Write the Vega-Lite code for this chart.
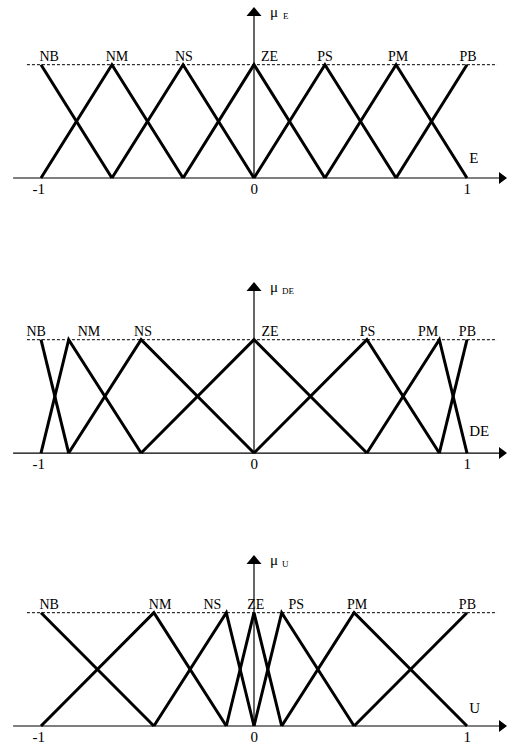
{
  "$schema": "https://vega.github.io/schema/vega-lite/v6.json",
  "padding": 0,
  "spacing": 0,
  "background": "white",
  "config": {"view": {"stroke": null}, "text": {"font": "Liberation Serif", "color": "black"}},
  "datasets": {
    "mf": [
      {"panel": "E", "set": "NB", "x": -1, "mu": 1}, {"panel": "E", "set": "NB", "x": -0.667, "mu": 0},
      {"panel": "E", "set": "NM", "x": -1, "mu": 0}, {"panel": "E", "set": "NM", "x": -0.667, "mu": 1}, {"panel": "E", "set": "NM", "x": -0.333, "mu": 0},
      {"panel": "E", "set": "NS", "x": -0.667, "mu": 0}, {"panel": "E", "set": "NS", "x": -0.333, "mu": 1}, {"panel": "E", "set": "NS", "x": 0, "mu": 0},
      {"panel": "E", "set": "ZE", "x": -0.333, "mu": 0}, {"panel": "E", "set": "ZE", "x": 0, "mu": 1}, {"panel": "E", "set": "ZE", "x": 0.333, "mu": 0},
      {"panel": "E", "set": "PS", "x": 0, "mu": 0}, {"panel": "E", "set": "PS", "x": 0.333, "mu": 1}, {"panel": "E", "set": "PS", "x": 0.667, "mu": 0},
      {"panel": "E", "set": "PM", "x": 0.333, "mu": 0}, {"panel": "E", "set": "PM", "x": 0.667, "mu": 1}, {"panel": "E", "set": "PM", "x": 1, "mu": 0},
      {"panel": "E", "set": "PB", "x": 0.667, "mu": 0}, {"panel": "E", "set": "PB", "x": 1, "mu": 1},

      {"panel": "DE", "set": "NB", "x": -1, "mu": 1}, {"panel": "DE", "set": "NB", "x": -0.87, "mu": 0},
      {"panel": "DE", "set": "NM", "x": -1, "mu": 0}, {"panel": "DE", "set": "NM", "x": -0.87, "mu": 1}, {"panel": "DE", "set": "NM", "x": -0.53, "mu": 0},
      {"panel": "DE", "set": "NS", "x": -0.87, "mu": 0}, {"panel": "DE", "set": "NS", "x": -0.53, "mu": 1}, {"panel": "DE", "set": "NS", "x": 0, "mu": 0},
      {"panel": "DE", "set": "ZE", "x": -0.53, "mu": 0}, {"panel": "DE", "set": "ZE", "x": 0, "mu": 1}, {"panel": "DE", "set": "ZE", "x": 0.53, "mu": 0},
      {"panel": "DE", "set": "PS", "x": 0, "mu": 0}, {"panel": "DE", "set": "PS", "x": 0.53, "mu": 1}, {"panel": "DE", "set": "PS", "x": 0.87, "mu": 0},
      {"panel": "DE", "set": "PM", "x": 0.53, "mu": 0}, {"panel": "DE", "set": "PM", "x": 0.87, "mu": 1}, {"panel": "DE", "set": "PM", "x": 1, "mu": 0},
      {"panel": "DE", "set": "PB", "x": 0.87, "mu": 0}, {"panel": "DE", "set": "PB", "x": 1, "mu": 1},

      {"panel": "U", "set": "NB", "x": -1, "mu": 1}, {"panel": "U", "set": "NB", "x": -0.47, "mu": 0},
      {"panel": "U", "set": "NM", "x": -1, "mu": 0}, {"panel": "U", "set": "NM", "x": -0.47, "mu": 1}, {"panel": "U", "set": "NM", "x": -0.13, "mu": 0},
      {"panel": "U", "set": "NS", "x": -0.47, "mu": 0}, {"panel": "U", "set": "NS", "x": -0.13, "mu": 1}, {"panel": "U", "set": "NS", "x": 0, "mu": 0},
      {"panel": "U", "set": "ZE", "x": -0.13, "mu": 0}, {"panel": "U", "set": "ZE", "x": 0, "mu": 1}, {"panel": "U", "set": "ZE", "x": 0.13, "mu": 0},
      {"panel": "U", "set": "PS", "x": 0, "mu": 0}, {"panel": "U", "set": "PS", "x": 0.13, "mu": 1}, {"panel": "U", "set": "PS", "x": 0.47, "mu": 0},
      {"panel": "U", "set": "PM", "x": 0.13, "mu": 0}, {"panel": "U", "set": "PM", "x": 0.47, "mu": 1}, {"panel": "U", "set": "PM", "x": 1, "mu": 0},
      {"panel": "U", "set": "PB", "x": 0.47, "mu": 0}, {"panel": "U", "set": "PB", "x": 1, "mu": 1}
    ],
    "lab": [
      {"panel": "E", "set": "NB", "lx": -0.962}, {"panel": "E", "set": "NM", "lx": -0.643}, {"panel": "E", "set": "NS", "lx": -0.329},
      {"panel": "E", "set": "ZE", "lx": 0.073}, {"panel": "E", "set": "PS", "lx": 0.333}, {"panel": "E", "set": "PM", "lx": 0.676}, {"panel": "E", "set": "PB", "lx": 1.005},
      {"panel": "DE", "set": "NB", "lx": -1.023}, {"panel": "DE", "set": "NM", "lx": -0.775}, {"panel": "DE", "set": "NS", "lx": -0.521},
      {"panel": "DE", "set": "ZE", "lx": 0.075}, {"panel": "DE", "set": "PS", "lx": 0.533}, {"panel": "DE", "set": "PM", "lx": 0.817}, {"panel": "DE", "set": "PB", "lx": 1.002},
      {"panel": "U", "set": "NB", "lx": -0.962}, {"panel": "U", "set": "NM", "lx": -0.441}, {"panel": "U", "set": "NS", "lx": -0.195},
      {"panel": "U", "set": "ZE", "lx": 0.008}, {"panel": "U", "set": "PS", "lx": 0.198}, {"panel": "U", "set": "PM", "lx": 0.484}, {"panel": "U", "set": "PB", "lx": 1.002}
    ],
    "ticks": [{"v": -1, "t": "-1"}, {"v": 0, "t": "0"}, {"v": 1, "t": "1"}],
    "one": [{}]
  },
  "vconcat": [
    {
      "width": 508, "height": 275,
      "layer": [
        {"data": {"name": "one"}, "mark": {"type": "rule", "color": "black", "strokeWidth": 1, "strokeDash": [3, 2]},
         "encoding": {"x": {"datum": -1.066, "type": "quantitative", "scale": {"domain": [-1.1925, 1.1925], "nice": false, "zero": false}, "axis": null}, "x2": {"datum": 1.141},
                      "y": {"datum": 1, "type": "quantitative", "scale": {"domain": [-0.856, 1.571], "nice": false, "zero": false}, "axis": null}}},
        {"data": {"name": "one"}, "mark": {"type": "rule", "color": "black", "strokeWidth": 1.2},
         "encoding": {"x": {"datum": -1.131, "type": "quantitative", "scale": {"domain": [-1.1925, 1.1925], "nice": false, "zero": false}, "axis": null}, "x2": {"datum": 1.15},
                      "y": {"datum": 0, "type": "quantitative", "scale": {"domain": [-0.856, 1.571], "nice": false, "zero": false}, "axis": null}}},
        {"data": {"name": "one"}, "mark": {"type": "rule", "color": "black", "strokeWidth": 1.2},
         "encoding": {"x": {"datum": 0, "type": "quantitative", "scale": {"domain": [-1.1925, 1.1925], "nice": false, "zero": false}, "axis": null},
                      "y": {"datum": 0, "type": "quantitative", "scale": {"domain": [-0.856, 1.571], "nice": false, "zero": false}, "axis": null}, "y2": {"datum": 1.45}}},
        {"data": {"name": "one"}, "mark": {"type": "point", "shape": "M-0.67,-1L0.67,0L-0.67,1Z", "size": 144, "filled": true, "color": "black", "opacity": 1, "strokeWidth": 0},
         "encoding": {"x": {"datum": 1.169, "type": "quantitative", "scale": {"domain": [-1.1925, 1.1925], "nice": false, "zero": false}, "axis": null},
                      "y": {"datum": 0, "type": "quantitative", "scale": {"domain": [-0.856, 1.571], "nice": false, "zero": false}, "axis": null}}},
        {"data": {"name": "one"}, "mark": {"type": "point", "shape": "M-1,0.6L0,-0.6L1,0.6Z", "size": 225, "filled": true, "color": "black", "opacity": 1, "strokeWidth": 0},
         "encoding": {"x": {"datum": 0, "type": "quantitative", "scale": {"domain": [-1.1925, 1.1925], "nice": false, "zero": false}, "axis": null},
                      "y": {"datum": 1.4695, "type": "quantitative", "scale": {"domain": [-0.856, 1.571], "nice": false, "zero": false}, "axis": null}}},
        {"data": {"name": "mf"}, "transform": [{"filter": "datum.panel === 'E'"}],
         "mark": {"type": "line", "color": "black", "strokeWidth": 3, "strokeJoin": "miter", "strokeCap": "butt"},
         "encoding": {"x": {"field": "x", "type": "quantitative", "scale": {"domain": [-1.1925, 1.1925], "nice": false, "zero": false}, "axis": null},
                      "y": {"field": "mu", "type": "quantitative", "scale": {"domain": [-0.856, 1.571], "nice": false, "zero": false}, "axis": null},
                      "detail": {"field": "set"}}},
        {"data": {"name": "lab"}, "transform": [{"filter": "datum.panel === 'E'"}],
         "mark": {"type": "text", "fontSize": 14, "align": "center", "baseline": "alphabetic", "dy": -4},
         "encoding": {"x": {"field": "lx", "type": "quantitative", "scale": {"domain": [-1.1925, 1.1925], "nice": false, "zero": false}, "axis": null},
                      "y": {"datum": 1, "type": "quantitative", "scale": {"domain": [-0.856, 1.571], "nice": false, "zero": false}, "axis": null},
                      "text": {"field": "set"}}},
        {"data": {"name": "ticks"},
         "mark": {"type": "text", "fontSize": 15, "align": "right", "dx": 4, "baseline": "top", "dy": 4},
         "encoding": {"x": {"field": "v", "type": "quantitative", "scale": {"domain": [-1.1925, 1.1925], "nice": false, "zero": false}, "axis": null},
                      "y": {"datum": 0, "type": "quantitative", "scale": {"domain": [-0.856, 1.571], "nice": false, "zero": false}, "axis": null},
                      "text": {"field": "t"}}},
        {"data": {"name": "one"}, "mark": {"type": "text", "text": "E", "fontSize": 15, "align": "left", "baseline": "alphabetic"},
         "encoding": {"x": {"datum": 1.01, "type": "quantitative", "scale": {"domain": [-1.1925, 1.1925], "nice": false, "zero": false}, "axis": null},
                      "y": {"datum": 0.13, "type": "quantitative", "scale": {"domain": [-0.856, 1.571], "nice": false, "zero": false}, "axis": null}}},
        {"data": {"name": "one"}, "mark": {"type": "text", "text": "μ", "fontSize": 15, "align": "left", "baseline": "alphabetic", "dx": 16},
         "encoding": {"x": {"datum": 0, "type": "quantitative", "scale": {"domain": [-1.1925, 1.1925], "nice": false, "zero": false}, "axis": null},
                      "y": {"datum": 1.42, "type": "quantitative", "scale": {"domain": [-0.856, 1.571], "nice": false, "zero": false}, "axis": null}}},
        {"data": {"name": "one"}, "mark": {"type": "text", "text": "E", "fontSize": 9, "align": "left", "baseline": "alphabetic", "dx": 29},
         "encoding": {"x": {"datum": 0, "type": "quantitative", "scale": {"domain": [-1.1925, 1.1925], "nice": false, "zero": false}, "axis": null},
                      "y": {"datum": 1.40, "type": "quantitative", "scale": {"domain": [-0.856, 1.571], "nice": false, "zero": false}, "axis": null}}}
      ]
    },
    {
      "width": 508, "height": 273,
      "layer": [
        {"data": {"name": "one"}, "mark": {"type": "rule", "color": "black", "strokeWidth": 1, "strokeDash": [3, 2]},
         "encoding": {"x": {"datum": -1.066, "type": "quantitative", "scale": {"domain": [-1.1925, 1.1925], "nice": false, "zero": false}, "axis": null}, "x2": {"datum": 1.141},
                      "y": {"datum": 1, "type": "quantitative", "scale": {"domain": [-0.838, 1.571], "nice": false, "zero": false}, "axis": null}}},
        {"data": {"name": "one"}, "mark": {"type": "rule", "color": "black", "strokeWidth": 1.2},
         "encoding": {"x": {"datum": -1.131, "type": "quantitative", "scale": {"domain": [-1.1925, 1.1925], "nice": false, "zero": false}, "axis": null}, "x2": {"datum": 1.15},
                      "y": {"datum": 0, "type": "quantitative", "scale": {"domain": [-0.838, 1.571], "nice": false, "zero": false}, "axis": null}}},
        {"data": {"name": "one"}, "mark": {"type": "rule", "color": "black", "strokeWidth": 1.2},
         "encoding": {"x": {"datum": 0, "type": "quantitative", "scale": {"domain": [-1.1925, 1.1925], "nice": false, "zero": false}, "axis": null},
                      "y": {"datum": 0, "type": "quantitative", "scale": {"domain": [-0.838, 1.571], "nice": false, "zero": false}, "axis": null}, "y2": {"datum": 1.45}}},
        {"data": {"name": "one"}, "mark": {"type": "point", "shape": "M-0.67,-1L0.67,0L-0.67,1Z", "size": 144, "filled": true, "color": "black", "opacity": 1, "strokeWidth": 0},
         "encoding": {"x": {"datum": 1.169, "type": "quantitative", "scale": {"domain": [-1.1925, 1.1925], "nice": false, "zero": false}, "axis": null},
                      "y": {"datum": 0, "type": "quantitative", "scale": {"domain": [-0.838, 1.571], "nice": false, "zero": false}, "axis": null}}},
        {"data": {"name": "one"}, "mark": {"type": "point", "shape": "M-1,0.6L0,-0.6L1,0.6Z", "size": 225, "filled": true, "color": "black", "opacity": 1, "strokeWidth": 0},
         "encoding": {"x": {"datum": 0, "type": "quantitative", "scale": {"domain": [-1.1925, 1.1925], "nice": false, "zero": false}, "axis": null},
                      "y": {"datum": 1.4695, "type": "quantitative", "scale": {"domain": [-0.838, 1.571], "nice": false, "zero": false}, "axis": null}}},
        {"data": {"name": "mf"}, "transform": [{"filter": "datum.panel === 'DE'"}],
         "mark": {"type": "line", "color": "black", "strokeWidth": 3, "strokeJoin": "miter", "strokeCap": "butt"},
         "encoding": {"x": {"field": "x", "type": "quantitative", "scale": {"domain": [-1.1925, 1.1925], "nice": false, "zero": false}, "axis": null},
                      "y": {"field": "mu", "type": "quantitative", "scale": {"domain": [-0.838, 1.571], "nice": false, "zero": false}, "axis": null},
                      "detail": {"field": "set"}}},
        {"data": {"name": "lab"}, "transform": [{"filter": "datum.panel === 'DE'"}],
         "mark": {"type": "text", "fontSize": 14, "align": "center", "baseline": "alphabetic", "dy": -4},
         "encoding": {"x": {"field": "lx", "type": "quantitative", "scale": {"domain": [-1.1925, 1.1925], "nice": false, "zero": false}, "axis": null},
                      "y": {"datum": 1, "type": "quantitative", "scale": {"domain": [-0.838, 1.571], "nice": false, "zero": false}, "axis": null},
                      "text": {"field": "set"}}},
        {"data": {"name": "ticks"},
         "mark": {"type": "text", "fontSize": 15, "align": "right", "dx": 4, "baseline": "top", "dy": 4},
         "encoding": {"x": {"field": "v", "type": "quantitative", "scale": {"domain": [-1.1925, 1.1925], "nice": false, "zero": false}, "axis": null},
                      "y": {"datum": 0, "type": "quantitative", "scale": {"domain": [-0.838, 1.571], "nice": false, "zero": false}, "axis": null},
                      "text": {"field": "t"}}},
        {"data": {"name": "one"}, "mark": {"type": "text", "text": "DE", "fontSize": 15, "align": "left", "baseline": "alphabetic"},
         "encoding": {"x": {"datum": 1.01, "type": "quantitative", "scale": {"domain": [-1.1925, 1.1925], "nice": false, "zero": false}, "axis": null},
                      "y": {"datum": 0.15, "type": "quantitative", "scale": {"domain": [-0.838, 1.571], "nice": false, "zero": false}, "axis": null}}},
        {"data": {"name": "one"}, "mark": {"type": "text", "text": "μ", "fontSize": 15, "align": "left", "baseline": "alphabetic", "dx": 16},
         "encoding": {"x": {"datum": 0, "type": "quantitative", "scale": {"domain": [-1.1925, 1.1925], "nice": false, "zero": false}, "axis": null},
                      "y": {"datum": 1.42, "type": "quantitative", "scale": {"domain": [-0.838, 1.571], "nice": false, "zero": false}, "axis": null}}},
        {"data": {"name": "one"}, "mark": {"type": "text", "text": "DE", "fontSize": 9, "align": "left", "baseline": "alphabetic", "dx": 28},
         "encoding": {"x": {"datum": 0, "type": "quantitative", "scale": {"domain": [-1.1925, 1.1925], "nice": false, "zero": false}, "axis": null},
                      "y": {"datum": 1.40, "type": "quantitative", "scale": {"domain": [-0.838, 1.571], "nice": false, "zero": false}, "axis": null}}}
      ]
    },
    {
      "width": 508, "height": 201,
      "layer": [
        {"data": {"name": "one"}, "mark": {"type": "rule", "color": "black", "strokeWidth": 1, "strokeDash": [3, 2]},
         "encoding": {"x": {"datum": -1.066, "type": "quantitative", "scale": {"domain": [-1.1925, 1.1925], "nice": false, "zero": false}, "axis": null}, "x2": {"datum": 1.141},
                      "y": {"datum": 1, "type": "quantitative", "scale": {"domain": [-0.203, 1.571], "nice": false, "zero": false}, "axis": null}}},
        {"data": {"name": "one"}, "mark": {"type": "rule", "color": "black", "strokeWidth": 1.2},
         "encoding": {"x": {"datum": -1.131, "type": "quantitative", "scale": {"domain": [-1.1925, 1.1925], "nice": false, "zero": false}, "axis": null}, "x2": {"datum": 1.15},
                      "y": {"datum": 0, "type": "quantitative", "scale": {"domain": [-0.203, 1.571], "nice": false, "zero": false}, "axis": null}}},
        {"data": {"name": "one"}, "mark": {"type": "rule", "color": "black", "strokeWidth": 1.2},
         "encoding": {"x": {"datum": 0, "type": "quantitative", "scale": {"domain": [-1.1925, 1.1925], "nice": false, "zero": false}, "axis": null},
                      "y": {"datum": 0, "type": "quantitative", "scale": {"domain": [-0.203, 1.571], "nice": false, "zero": false}, "axis": null}, "y2": {"datum": 1.45}}},
        {"data": {"name": "one"}, "mark": {"type": "point", "shape": "M-0.67,-1L0.67,0L-0.67,1Z", "size": 144, "filled": true, "color": "black", "opacity": 1, "strokeWidth": 0},
         "encoding": {"x": {"datum": 1.169, "type": "quantitative", "scale": {"domain": [-1.1925, 1.1925], "nice": false, "zero": false}, "axis": null},
                      "y": {"datum": 0, "type": "quantitative", "scale": {"domain": [-0.203, 1.571], "nice": false, "zero": false}, "axis": null}}},
        {"data": {"name": "one"}, "mark": {"type": "point", "shape": "M-1,0.6L0,-0.6L1,0.6Z", "size": 225, "filled": true, "color": "black", "opacity": 1, "strokeWidth": 0},
         "encoding": {"x": {"datum": 0, "type": "quantitative", "scale": {"domain": [-1.1925, 1.1925], "nice": false, "zero": false}, "axis": null},
                      "y": {"datum": 1.4695, "type": "quantitative", "scale": {"domain": [-0.203, 1.571], "nice": false, "zero": false}, "axis": null}}},
        {"data": {"name": "mf"}, "transform": [{"filter": "datum.panel === 'U'"}],
         "mark": {"type": "line", "color": "black", "strokeWidth": 3, "strokeJoin": "miter", "strokeCap": "butt"},
         "encoding": {"x": {"field": "x", "type": "quantitative", "scale": {"domain": [-1.1925, 1.1925], "nice": false, "zero": false}, "axis": null},
                      "y": {"field": "mu", "type": "quantitative", "scale": {"domain": [-0.203, 1.571], "nice": false, "zero": false}, "axis": null},
                      "detail": {"field": "set"}}},
        {"data": {"name": "lab"}, "transform": [{"filter": "datum.panel === 'U'"}],
         "mark": {"type": "text", "fontSize": 14, "align": "center", "baseline": "alphabetic", "dy": -4},
         "encoding": {"x": {"field": "lx", "type": "quantitative", "scale": {"domain": [-1.1925, 1.1925], "nice": false, "zero": false}, "axis": null},
                      "y": {"datum": 1, "type": "quantitative", "scale": {"domain": [-0.203, 1.571], "nice": false, "zero": false}, "axis": null},
                      "text": {"field": "set"}}},
        {"data": {"name": "ticks"},
         "mark": {"type": "text", "fontSize": 15, "align": "right", "dx": 4, "baseline": "top", "dy": 4},
         "encoding": {"x": {"field": "v", "type": "quantitative", "scale": {"domain": [-1.1925, 1.1925], "nice": false, "zero": false}, "axis": null},
                      "y": {"datum": 0, "type": "quantitative", "scale": {"domain": [-0.203, 1.571], "nice": false, "zero": false}, "axis": null},
                      "text": {"field": "t"}}},
        {"data": {"name": "one"}, "mark": {"type": "text", "text": "U", "fontSize": 15, "align": "left", "baseline": "alphabetic"},
         "encoding": {"x": {"datum": 1.01, "type": "quantitative", "scale": {"domain": [-1.1925, 1.1925], "nice": false, "zero": false}, "axis": null},
                      "y": {"datum": 0.115, "type": "quantitative", "scale": {"domain": [-0.203, 1.571], "nice": false, "zero": false}, "axis": null}}},
        {"data": {"name": "one"}, "mark": {"type": "text", "text": "μ", "fontSize": 15, "align": "left", "baseline": "alphabetic", "dx": 16},
         "encoding": {"x": {"datum": 0, "type": "quantitative", "scale": {"domain": [-1.1925, 1.1925], "nice": false, "zero": false}, "axis": null},
                      "y": {"datum": 1.42, "type": "quantitative", "scale": {"domain": [-0.203, 1.571], "nice": false, "zero": false}, "axis": null}}},
        {"data": {"name": "one"}, "mark": {"type": "text", "text": "U", "fontSize": 9, "align": "left", "baseline": "alphabetic", "dx": 28},
         "encoding": {"x": {"datum": 0, "type": "quantitative", "scale": {"domain": [-1.1925, 1.1925], "nice": false, "zero": false}, "axis": null},
                      "y": {"datum": 1.40, "type": "quantitative", "scale": {"domain": [-0.203, 1.571], "nice": false, "zero": false}, "axis": null}}}
      ]
    }
  ]
}
